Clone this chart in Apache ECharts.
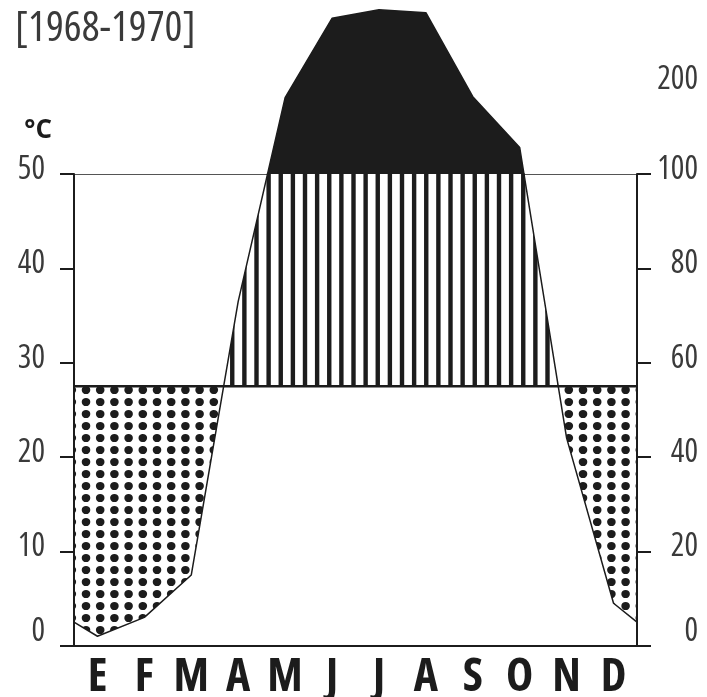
<!DOCTYPE html>
<html>
<head>
<meta charset="utf-8">
<script src="https://cdn.jsdelivr.net/npm/echarts@6/dist/echarts.min.js"></script>
<style>
  html, body { margin: 0; padding: 0; background: #fff; }
  #main { width: 707px; height: 697px; }
</style>
</head>
<body>
<div id="main"></div>
<script>
// climate diagram, months as Spanish initials
const months = ['E', 'F', 'M', 'A', 'M', 'J', 'J', 'A', 'S', 'O', 'N', 'D'];
// mean monthly temperature, °C
const temperature = [27.5, 27.5, 27.5, 27.5, 27.5, 27.5, 27.5, 27.5, 27.5, 27.5, 27.5, 27.5];
// mean monthly precipitation, mm
const precipitation = [2, 6, 15, 73, 181, 265, 274, 271, 182, 128, 44, 9];
// values where the curves meet the left/right edge (Dec/Jan boundary)
const edgeTemp = 27.5;
const edgePrecip = 5;
const tempTicks = [0, 10, 20, 30, 40, 50];
const precipTicks = [0, 20, 40, 60, 80, 100, 200, 300];
const period = '[1968-1970]';

// Walter-Lieth scale: 10 °C = 20 mm up to 100 mm, then 10 °C = 100 mm
const toScale = mm => (mm <= 100 ? mm / 2 : 50 + (mm - 100) / 10);
const fromScale = v => Math.round(v <= 50 ? v * 2 : 100 + (v - 50) * 10);

const W = 707, H = 697;
const left = 74, right = W - 637;
const yZero = 645.7, yTop = 174; // 0 °C and 50 °C
const pxPerDeg = (yZero - yTop) / 50;
const yOf = v => yZero - v * pxPerDeg;
const tLevel = temperature[0];

const ink = '#1c1c1c';
const grey = '#3a3a3a';
const font = '"Open Sans"';

function curve(values, edge, f) {
  const pts = [[0, f(edge)]];
  values.forEach((v, i) => pts.push([i + 0.5, f(v)]));
  pts.push([12, f(edge)]);
  return pts;
}
const precipCurve = curve(precipitation, edgePrecip, toScale);
const tempCurve = curve(temperature, edgeTemp, v => v);

function dotTile() {
  const w = 71, h = 60;
  const c = document.createElement('canvas');
  c.width = w; c.height = h;
  const g = c.getContext('2d');
  g.fillStyle = ink;
  for (let i = 0; i < 5; i++) {
    for (let j = 0; j < 5; j++) {
      const cx = 0.8 + i * 14.2, cy = 6 + j * 12;
      for (const dx of [-w, 0, w]) {
        for (const dy of [-h, 0, h]) {
          g.beginPath();
          g.ellipse(cx + dx, cy + dy, 4.3, 4.1, 0, 0, Math.PI * 2);
          g.fill();
        }
      }
    }
  }
  return c;
}

function stripeTile() {
  const w = 97, h = 4;
  const c = document.createElement('canvas');
  c.width = w; c.height = h;
  const g = c.getContext('2d');
  g.fillStyle = ink;
  for (let k = -1; k <= 8; k++) {
    const cx = 1.875 + k * 12.125;
    g.fillRect(cx - 2.2, 0, 4.4, h);
  }
  return c;
}

const chart = echarts.init(document.getElementById('main'));

const hiddenX = gi => ({ gridIndex: gi, type: 'value', min: 0, max: 12, show: false });
const numStyle = { fontSize: 32, fontWeight: 'condensed', color: grey, fontFamily: font };
const numLabel = Object.assign({}, numStyle, {
  rich: {
    n: Object.assign({}, numStyle, { padding: [0, 0, 8, 0] }),
    z: Object.assign({}, numStyle, { padding: [0, 0, 28, 0] })
  }
});
const wrap = s => (s === '0' ? '{z|0}' : '{n|' + s + '}');

const option = {
  animation: false,
  title: {
    text: period, left: 10, top: 3,
    textStyle: { fontSize: 42, fontWeight: 'condensed', color: grey, fontFamily: font }
  },
  grid: [
    { left, right, top: yTop, bottom: H - yZero, outerBoundsMode: 'none' },
    { left, right, top: yOf(toScale(300)), bottom: H - yTop, outerBoundsMode: 'none' },
    { left, right, top: yTop, bottom: H - yOf(tLevel), outerBoundsMode: 'none' },
    { left, right, top: yOf(tLevel), bottom: H - yZero, outerBoundsMode: 'none' }
  ],
  xAxis: [
    {
      gridIndex: 0, type: 'category', data: months, boundaryGap: true,
      axisLine: { lineStyle: { color: ink, width: 2 } },
      axisTick: { inside: true, length: 12, lineStyle: { color: ink, width: 1.5 } },
      axisLabel: { fontSize: 46, fontWeight: 'bold condensed', color: ink, fontFamily: font, margin: 9 },
      splitLine: { show: false }
    },
    hiddenX(0), hiddenX(1), hiddenX(2), hiddenX(3)
  ],
  yAxis: [
    {
      gridIndex: 0, type: 'value', position: 'left', min: 0, max: 50,
      name: '°C', nameLocation: 'end', nameGap: 30,
      nameTextStyle: { fontSize: 26, fontWeight: 'bold', color: ink, fontFamily: font, align: 'right', padding: [0, 22, 0, 0] },
      axisLine: { show: true, lineStyle: { color: ink, width: 2 } },
      axisTick: { show: true, length: 14, customValues: tempTicks, lineStyle: { color: ink, width: 2 } },
      axisLabel: Object.assign({}, numLabel, { customValues: tempTicks, margin: 29, formatter: v => wrap(String(v)) }),
      splitLine: { show: false }
    },
    {
      gridIndex: 0, type: 'value', position: 'right', min: 0, max: 50,
      axisLine: { show: true, lineStyle: { color: ink, width: 2 } },
      axisTick: { show: true, length: 14, customValues: precipTicks.filter(p => p <= 100).map(toScale), lineStyle: { color: ink, width: 2 } },
      axisLabel: Object.assign({}, numLabel, {
        customValues: precipTicks.filter(p => p <= 100).map(toScale),
        margin: 61, align: 'right', formatter: v => wrap(String(fromScale(v)))
      }),
      splitLine: { show: false }
    },
    {
      gridIndex: 1, type: 'value', position: 'right', min: 50, max: toScale(300),
      axisLine: { show: false }, axisTick: { show: false },
      axisLabel: Object.assign({}, numStyle, {
        customValues: precipTicks.filter(p => p > 100).map(toScale),
        margin: 61, align: 'right', formatter: v => String(fromScale(v))
      }),
      splitLine: { show: false }
    },
    { gridIndex: 2, type: 'value', min: tLevel, max: 50, show: false },
    { gridIndex: 3, type: 'value', min: 0, max: tLevel, show: false }
  ],
  series: [
    {
      // dry months: precipitation below temperature
      type: 'line', xAxisIndex: 4, yAxisIndex: 4, data: precipCurve,
      symbol: 'none', silent: true, lineStyle: { width: 0 },
      areaStyle: { origin: 'end', opacity: 1, color: { image: dotTile(), repeat: 'repeat' } }
    },
    {
      // humid months
      type: 'line', xAxisIndex: 3, yAxisIndex: 3, data: precipCurve,
      symbol: 'none', silent: true, lineStyle: { width: 0 },
      areaStyle: { origin: 'start', opacity: 1, color: { image: stripeTile(), repeat: 'repeat' } }
    },
    {
      // above 100 mm
      type: 'line', xAxisIndex: 2, yAxisIndex: 2, data: precipCurve,
      symbol: 'none', silent: true, lineStyle: { width: 1.5, color: ink },
      areaStyle: { origin: 'start', opacity: 1, color: ink }
    },
    {
      name: 'precipitación', type: 'line', xAxisIndex: 1, yAxisIndex: 0, data: precipCurve,
      symbol: 'none', lineStyle: { width: 1.5, color: ink }
    },
    {
      name: 'temperatura', type: 'line', xAxisIndex: 1, yAxisIndex: 0, data: tempCurve,
      symbol: 'none', lineStyle: { width: 2.5, color: ink }
    }
  ]
};

chart.setOption(option);
</script>
</body>
</html>
